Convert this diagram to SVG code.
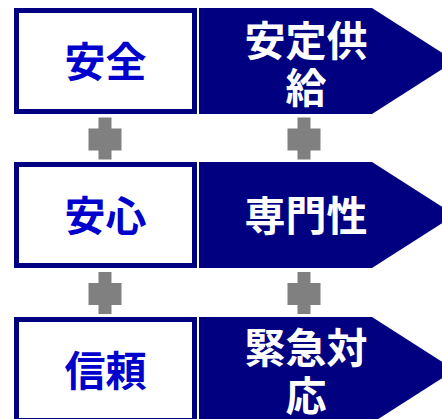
<svg xmlns="http://www.w3.org/2000/svg" width="442" height="419" viewBox="0 0 442 419">
<style>
.box{fill:#fff;stroke:#000080;stroke-width:5}
.arr{fill:#000080}
.plus{fill:#808080}
.t{font-family:"Noto Sans CJK JP","Noto Sans CJK SC",sans-serif;font-weight:bold;font-size:41px;text-anchor:middle}
.tl{fill:#0000cc}
.tr{fill:#fff}
</style>
<rect width="442" height="419" fill="#fff"/>
<g id="connectors">
<g class="plus">
<rect x="98.5" y="117.5" width="13" height="42"/><rect x="88.5" y="128.5" width="33" height="22"/>
<rect x="297.5" y="117.5" width="13" height="42"/><rect x="287.5" y="128.5" width="33" height="22"/>
<rect x="98.5" y="272" width="13" height="42"/><rect x="88.5" y="283" width="33" height="22"/>
<rect x="297.5" y="272" width="13" height="42"/><rect x="287.5" y="283" width="33" height="22"/>
</g>
</g>
<g id="node-anzen">
<rect class="box" x="16.5" y="10.5" width="178" height="101"/>
<text class="t tl" x="105.5" y="77">安全</text>
</g>
<g id="node-anteikyokyu">
<polygon class="arr" points="199,8 372,8 455,61 372,114 199,114"/>
<text class="t tr"><tspan x="306" y="55.5">安定供</tspan><tspan x="306" y="103">給</tspan></text>
</g>
<g id="node-anshin">
<rect class="box" x="16.5" y="164.5" width="178" height="101"/>
<text class="t tl" x="105.5" y="231">安心</text>
</g>
<g id="node-senmonsei">
<polygon class="arr" points="199,162 372,162 455,215 372,268 199,268"/>
<text class="t tr" x="306" y="231">専門性</text>
</g>
<g id="node-shinrai">
<rect class="box" x="16.5" y="319.5" width="178" height="101"/>
<text class="t tl" x="105.5" y="386">信頼</text>
</g>
<g id="node-kinkyutaio">
<polygon class="arr" points="199,317 372,317 455,370 372,423 199,423"/>
<text class="t tr"><tspan x="306" y="363">緊急対</tspan><tspan x="306" y="410.5">応</tspan></text>
</g>
</svg>
